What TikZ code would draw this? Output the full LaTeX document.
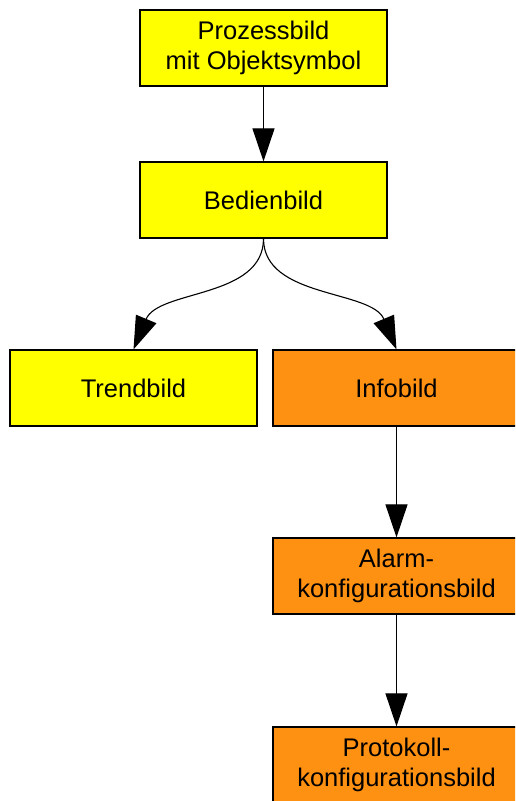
\documentclass[tikz,border=0pt]{standalone}
\usepackage{fontspec}
\setmainfont{Liberation Sans}
\usetikzlibrary{arrows.meta}
\definecolor{boxyellow}{RGB}{255,255,0}
\definecolor{boxorange}{RGB}{255,145,18}
\begin{document}
\begin{tikzpicture}[x=1pt,y=1pt,
  box/.style={draw=black, line width=1.2pt, minimum width=247pt, minimum height=76pt,
    inner sep=0pt, align=center, font=\fontsize{25.5pt}{30pt}\selectfont},
  yellowbox/.style={box, fill=boxyellow},
  orangebox/.style={box, fill=boxorange},
  edge/.style={draw=black, line width=1.1pt, -{Triangle[length=33pt,width=22pt]}}]
  \useasboundingbox (0,0) rectangle (515,-801);
  \clip (0,0) rectangle (515,-801);

  \node[yellowbox] (proz)  at (263.5,-48)  {Prozessbild\\mit Objektsymbol};
  \node[yellowbox] (bed)   at (263.5,-200) {Bedienbild};
  \node[yellowbox] (trend) at (133.5,-388) {Trendbild};
  \node[orangebox] (info)  at (396.5,-388) {Infobild};
  \node[orangebox] (alarm) at (396.5,-576) {Alarm-\\konfigurationsbild};
  \node[orangebox] (proto) at (396.5,-765) {Protokoll-\\konfigurationsbild};

  \draw[edge] (proz.south) -- (bed.north);
  \draw[edge] (bed.south) .. controls +(0,-60) and +(25,60) .. (trend.north);
  \draw[edge] (bed.south) .. controls +(0,-60) and +(-25,60) .. (info.north);
  \draw[edge] (info.south) -- (alarm.north);
  \draw[edge] (alarm.south) -- (proto.north);
\end{tikzpicture}
\end{document}
